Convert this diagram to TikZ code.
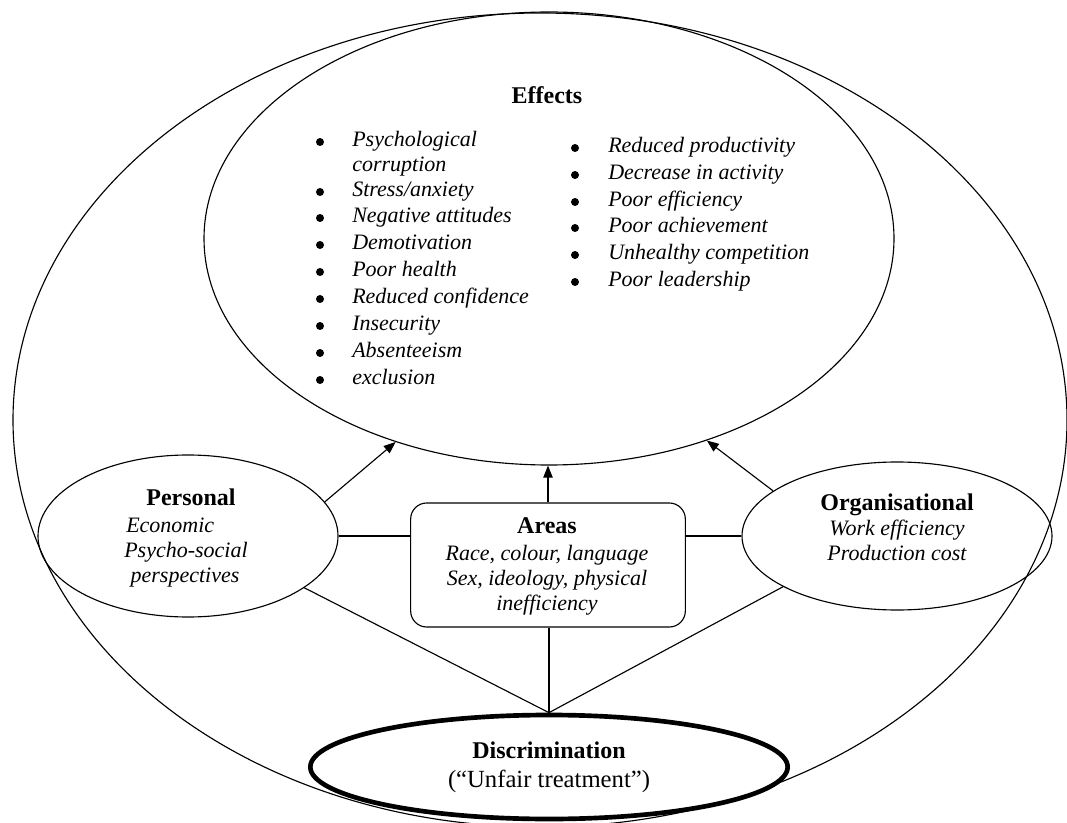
\documentclass[tikz,border=0pt]{standalone}
\usepackage{fontspec}
\setmainfont{Liberation Serif}
\usetikzlibrary{shapes.geometric,arrows.meta}
\begin{document}
\begin{tikzpicture}[x=0.75pt,y=-0.75pt,
  line/.style={line width=0.85pt},
  ell/.style={ellipse, draw, line width=0.85pt, inner sep=0pt},
  arr/.style={line width=0.85pt, -{Triangle[length=9pt,width=7pt]}},
  ttl/.style={font=\fontsize{18}{21}\selectfont\bfseries, inner sep=0pt, text height=12.5pt, text depth=4pt},
  reg/.style={font=\fontsize{18.5}{21}\selectfont, inner sep=0pt, text height=12.5pt, text depth=4pt},
  itm/.style={font=\fontsize{16.5}{20}\selectfont\itshape, inner sep=0pt, text height=11.5pt, text depth=4pt},
  bul/.style={circle, fill, inner sep=0pt, minimum size=6pt},
]
\useasboundingbox (0,0) rectangle (1067,823);
\clip (0,0) rectangle (1067,823);
% main shapes
\node[ell, minimum width=790.5pt, minimum height=610.5pt] (outer) at (540,420) {};
\node[ell, minimum width=517.5pt, minimum height=339.75pt] (E) at (549,238.5) {};
\node[ell, minimum width=225pt, minimum height=121.5pt] (P) at (188,536) {};
\node[ell, minimum width=232.5pt, minimum height=111pt] (O) at (897,536) {};
\node[draw, line width=0.85pt, rounded corners=12pt, minimum width=206pt, minimum height=93pt, inner sep=0pt] (A) at (548,565) {};
\node[ellipse, draw, fill=white, line width=3.5pt, inner sep=0pt, minimum width=358pt, minimum height=78pt] (D) at (549,767) {};
% Effects
\node[ttl] (Et) at (547,98) {Effects};
\node[bul] (l1) at (320,142) {}; \node[itm, anchor=west] (lt1) at (352,142) {Psychological};
\node[itm, anchor=west] (lt1b) at (352,167) {corruption};
\node[bul] (l2) at (320,192) {}; \node[itm, anchor=west] (lt2) at (352,192) {Stress/anxiety};
\node[bul] (l3) at (320,218) {}; \node[itm, anchor=west] (lt3) at (352,218) {Negative attitudes};
\node[bul] (l4) at (320,245) {}; \node[itm, anchor=west] (lt4) at (352,245) {Demotivation};
\node[bul] (l5) at (320,272) {}; \node[itm, anchor=west] (lt5) at (352,272) {Poor health};
\node[bul] (l6) at (320,299) {}; \node[itm, anchor=west] (lt6) at (352,299) {Reduced confidence};
\node[bul] (l7) at (320,326) {}; \node[itm, anchor=west] (lt7) at (352,326) {Insecurity};
\node[bul] (l8) at (320,353) {}; \node[itm, anchor=west] (lt8) at (352,353) {Absenteeism};
\node[bul] (l9) at (320,380) {}; \node[itm, anchor=west] (lt9) at (352,380) {exclusion};
\node[bul] (r1) at (575,148) {}; \node[itm, anchor=west] (rt1) at (608,148) {Reduced productivity};
\node[bul] (r2) at (575,175) {}; \node[itm, anchor=west] (rt2) at (608,175) {Decrease in activity};
\node[bul] (r3) at (575,202) {}; \node[itm, anchor=west] (rt3) at (608,202) {Poor efficiency};
\node[bul] (r4) at (575,228) {}; \node[itm, anchor=west] (rt4) at (608,228) {Poor achievement};
\node[bul] (r5) at (575,255) {}; \node[itm, anchor=west] (rt5) at (608,255) {Unhealthy competition};
\node[bul] (r6) at (575,282) {}; \node[itm, anchor=west] (rt6) at (608,282) {Poor leadership};
% Personal
\node[ttl] (Pt) at (191,500) {Personal};
\node[itm, anchor=west] (Pt1) at (126,527) {Economic};
\node[itm] (Pt2) at (186,552) {Psycho-social};
\node[itm] (Pt3) at (185,577) {perspectives};
% Areas
\node[ttl] (At) at (547,528) {Areas};
\node[itm] (At1) at (547,555) {Race, colour, language};
\node[itm] (At2) at (547,580) {Sex, ideology, physical};
\node[itm] (At3) at (547,605) {inefficiency};
% Organisational
\node[ttl] (Ot) at (897,505) {Organisational};
\node[itm] (Ot1) at (897,530) {Work efficiency};
\node[itm] (Ot2) at (897,555) {Production cost};
% Discrimination
\node[ttl] (Dt) at (549,753) {Discrimination};
\node[reg] (Dt1) at (549,782) {(“Unfair treatment”)};
% connectors
\draw[arr] (P.14) -- (E.-127.7);
\draw[arr] (A.north) -- (A.north |- E.south);
\draw[arr] (O.160.5) -- (E.-52.7);
\draw[line] (P.east) -- (P.east -| A.west);
\draw[line] (A.east |- O.west) -- (O.west);
\draw[line] (P.-24) -- (D.north);
\draw[line] (A.south -| D.north) -- (D.north);
\draw[line] (O.-156) -- (D.north);
\end{tikzpicture}
\end{document}
